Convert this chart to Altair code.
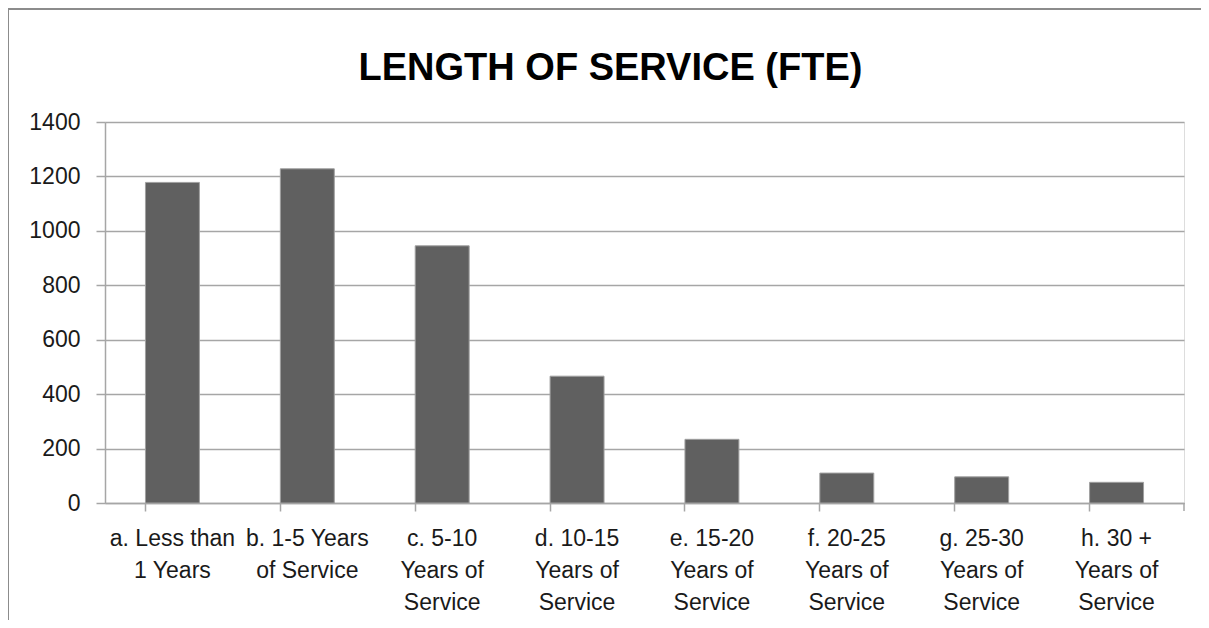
import altair as alt
import pandas as pd

categories = [
    "a. Less than\n1 Years",
    "b. 1-5 Years\nof Service",
    "c. 5-10\nYears of\nService",
    "d. 10-15\nYears of\nService",
    "e. 15-20\nYears of\nService",
    "f. 20-25\nYears of\nService",
    "g. 25-30\nYears of\nService",
    "h. 30 +\nYears of\nService",
]
fte = [1178, 1228, 945, 466, 234, 110, 96, 76]
y_ticks = [0, 200, 400, 600, 800, 1000, 1200, 1400]
title_text = "LENGTH OF SERVICE (FTE)"

df = pd.DataFrame({"category": categories, "fte": fte})

FONT = "Liberation Sans"
GRID = "#a6a6a6"
W, H = 1079, 381

bars = alt.Chart(df).mark_bar(color="#606060", stroke="#a0a0a0", strokeWidth=1).encode(
    x=alt.X(
        "category:N",
        sort=categories,
        scale=alt.Scale(paddingInner=0.6, paddingOuter=0.3),
        axis=alt.Axis(
            title=None,
            labelExpr="split(datum.value, '\\n')",
            labelAngle=0,
            labelFont=FONT,
            labelFontSize=23,
            labelColor="#1a1a1a",
            labelLineHeight=32,
            labelBaseline="top",
            labelPadding=16,
            bandPosition=0,
            tickSize=8,
            tickColor=GRID,
            tickWidth=1.5,
            domainColor=GRID,
            domainWidth=1.5,
            grid=False,
        ),
    ),
    y=alt.Y(
        "fte:Q",
        scale=alt.Scale(domain=[0, 1400], nice=False),
        axis=alt.Axis(
            title=None,
            values=y_ticks,
            format="d",
            labelFont=FONT,
            labelFontSize=23,
            labelColor="#1a1a1a",
            labelPadding=16,
            tickSize=9,
            tickColor=GRID,
            tickWidth=1.5,
            domainColor=GRID,
            domainWidth=1.5,
            grid=True,
            gridColor=GRID,
            gridWidth=1.5,
        ),
    ),
)

one = alt.Data(values=[{}])
end_tick = alt.Chart(one).mark_rule(color=GRID, strokeWidth=1.5).encode(
    x=alt.value(W), y=alt.value(H), y2=alt.value(H + 8)
)
top_border = alt.Chart(one).mark_rule(color="#8c8c8c", strokeWidth=2).encode(
    x=alt.value(-97), x2=alt.value(1110), y=alt.value(-113)
)
left_border = alt.Chart(one).mark_rule(color="#8c8c8c", strokeWidth=2).encode(
    x=alt.value(-97), y=alt.value(-113), y2=alt.value(510)
)

chart = alt.layer(bars, end_tick, top_border, left_border).properties(
    width=W,
    height=H,
    autosize=alt.AutoSizeParams(type="none"),
    padding={"left": 97, "top": 114, "right": 17, "bottom": 117},
    title=alt.TitleParams(
        title_text,
        font=FONT,
        fontSize=38,
        fontWeight="bold",
        color="#000000",
        anchor="middle",
        frame="group",
        baseline="alphabetic",
        dx=-34,
        offset=-110,
    ),
).configure_view(stroke=None).configure(background="white")

chart.save("out.html", embed_options={"renderer": "svg", "actions": False})
